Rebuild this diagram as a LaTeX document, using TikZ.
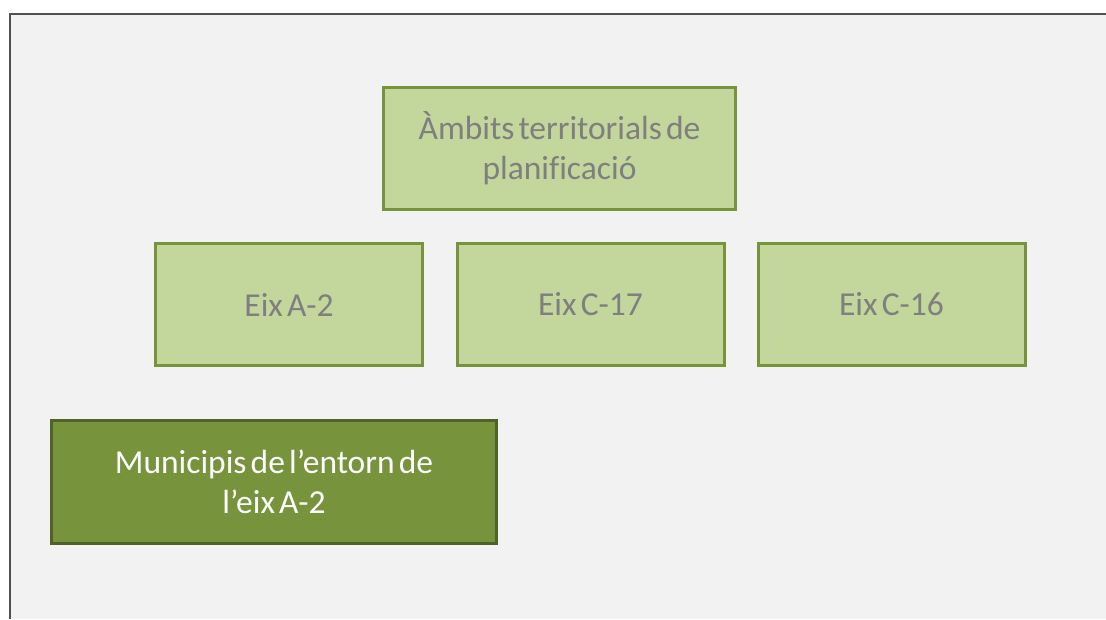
\documentclass[tikz,border=0pt]{standalone}
\usepackage{fontspec}
\setmainfont{Carlito}[WordSpace=0.55, Ligatures=NoCommon]
\usetikzlibrary{positioning}
\definecolor{lightgreen}{HTML}{C3D69B}
\definecolor{midgreen}{HTML}{77933C}
\definecolor{darkgreen}{HTML}{4F6228}
\definecolor{textgray}{HTML}{7F7F7F}
\definecolor{pagegray}{HTML}{F2F2F2}
\definecolor{framegray}{HTML}{505050}
\tikzset{
  box/.style={draw, line width=3pt, align=center, inner sep=0pt, minimum height=122pt,
    font=\fontsize{33.5}{40}\selectfont},
  kambit/.style={box, fill=lightgreen, draw=midgreen, text=textgray, minimum width=352pt},
  keix/.style={box, fill=lightgreen, draw=midgreen, text=textgray, minimum width=267pt},
  kmunicipi/.style={box, fill=midgreen, draw=darkgreen, text=white, minimum width=445pt, minimum height=123pt},
}
\begin{document}
\begin{tikzpicture}[x=1pt, y=-1pt]
    \useasboundingbox (0,0) rectangle (1106,619);
    \fill[white] (0,0) rectangle (1106,619);
    \fill[pagegray] (10,14) rectangle (1106,619);
    \draw[framegray, line width=2.5pt] (10,619) -- (10,14) -- (1106,14);
    \node[kambit] (ambits) at (559.5,148.5) {Àmbits territorials de\\planificació};
    \node[keix] (a2) at (289,304.5) {Eix A-2};
    \node[keix] (c17) at (590.5,304.5) {Eix C-17};
    \node[keix] (c16) at (891.5,304.5) {Eix C-16};
    \node[kmunicipi] (entorn) at (274,482) {Municipis de l’entorn de\\l’eix A-2};
  \end{tikzpicture}
\end{document}
